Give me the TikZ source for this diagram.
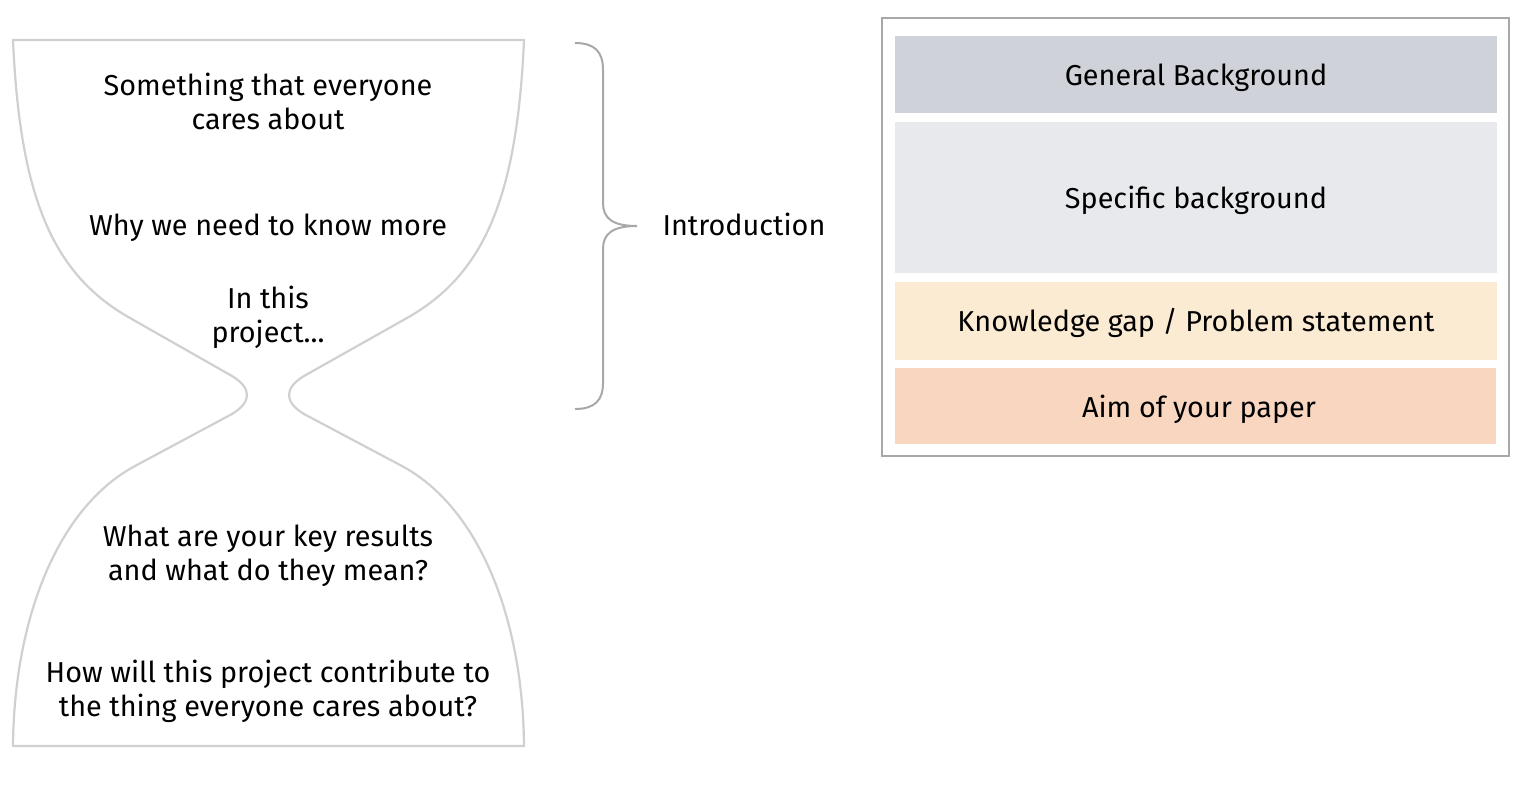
\documentclass[tikz,border=0pt]{standalone}
\usepackage{fontspec}
\setmainfont{Fira Sans}
\definecolor{glass}{HTML}{D0D0D0}
\definecolor{bracec}{HTML}{A8A8A8}
\definecolor{framec}{HTML}{A8A8A8}
\definecolor{genbg}{HTML}{CFD2D9}
\definecolor{specbg}{HTML}{E8E9ED}
\definecolor{gapbg}{HTML}{FCEBD3}
\definecolor{aimbg}{HTML}{F8D6C0}
\tikzset{
  txt/.style={align=center, inner sep=0pt, font=\fontsize{28.8}{34}\selectfont, text=black},
  glassline/.style={draw=glass, line width=2.2pt, line join=round},
}
\begin{document}
\begin{tikzpicture}[x=1pt,y=-1pt]
\useasboundingbox (0,0) rectangle (1522,788);
% hourglass
\draw[glassline] (13,40) -- (524,40)
  .. controls (517,200) and (483,275) .. (407,318)
  -- (304,376) .. controls (284,388) and (284,402) .. (304,414)
  -- (402,466) .. controls (480,508) and (523,620) .. (524,746)
  -- (13,746)
  .. controls (14,620) and (57,508) .. (135,466)
  -- (232,414) .. controls (252,402) and (252,388) .. (232,376)
  -- (130,318) .. controls (54,275) and (20,200) .. (13,40) -- cycle;
\node[txt] (t1) at (268,101) {Something that everyone\\cares about};
\node[txt] (t2) at (268,228) {Why we need to know more};
\node[txt] (t3) at (268,317) {In this\\project...};
\node[txt] (t4) at (268,556) {What are your key results\\and what do they mean?};
\node[txt] (t5) at (268,691) {How will this project contribute to\\the thing everyone cares about?};
% brace
\coordinate (btop) at (575,43);
\coordinate (btip) at (637,226);
\coordinate (bbot) at (575,409);
\draw[draw=bracec, line width=2pt]
  (btop) .. controls (595,43) and (603,52) .. (603,70)
  -- (603,203) .. controls (603,218) and (612,226) .. (btip)
  (btip) .. controls (612,226) and (603,234) .. (603,249)
  -- (603,383) .. controls (603,400) and (595,409) .. (bbot);
\node[txt] (intro) at (744,224) {Introduction};
% right panel
\draw[draw=framec, line width=2pt] (882,18) rectangle (1509,456);
\fill[genbg] (895,36) rectangle (1497,113);
\fill[specbg] (895,122) rectangle (1497,273);
\fill[gapbg] (895,282) rectangle (1497,360);
\fill[aimbg] (895,368) rectangle (1496,444);
\node[txt] (gen) at (1196,78) {General Background};
\node[txt] (spec) at (1196,200) {Specific background};
\node[txt] (gap) at (1196,323) {Knowledge gap / Problem statement};
\node[txt] (aim) at (1199,409) {Aim of your paper};
\end{tikzpicture}
\end{document}
